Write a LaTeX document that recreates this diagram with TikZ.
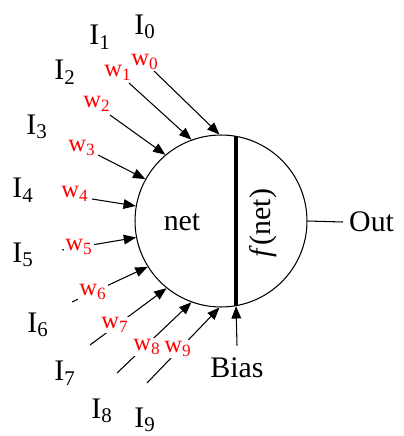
\documentclass[tikz,border=0pt]{standalone}
\usepackage{fontspec}
\setmainfont{Liberation Serif}
\usetikzlibrary{arrows.meta}

\begin{document}
\begin{tikzpicture}[x=0.02cm, y=-0.02cm,
    input/.style={font=\fontsize{17}{20}\selectfont},
    weight/.style={font=\fontsize{14}{16}\selectfont, text=red, fill=white, inner sep=0.5pt},
    link/.style={-{Triangle[length=7pt, width=5.5pt]}, line width=0.6pt}]
    \useasboundingbox (0, 0) rectangle (403, 436);

    % Neuron body
    \node[circle, draw, line width=0.6pt, minimum size=3.44cm, inner sep=0] (cell) at (221, 221) {};
    \draw[line width=1.8pt] (cell.80) -- (cell.-80);
    \node[input] (net) at (182, 222) {net};
    \node[input, rotate=90] (fnet) at (263, 223) {\textit{f}(net)};

    % Output
    \node[input, anchor=west] (out) at (343, 222) {Out};
    \draw[line width=0.6pt] (cell.east) -- (out.west);

    % Bias
    \node[input, inner sep=2pt, outer sep=5pt] (bias) at (237, 368) {Bias};
    \draw[link] (bias.north) -- (cell.-80);

    % Tails of the input lines
    \coordinate (t0) at (153, 70);
    \coordinate (t1) at (129, 83);
    \coordinate (t2) at (110, 115);
    \coordinate (t3) at (98, 155);
    \coordinate (t4) at (92, 199);
    \coordinate (t5) at (62, 250);
    \coordinate (t6) at (72, 302);
    \coordinate (t7) at (90, 345);
    \coordinate (t8) at (117, 373);
    \coordinate (t9) at (147, 383);

    % Weighted input lines
    \draw[link] (t0) -- (cell.91);
    \draw[link] (t1) -- (cell.110);
    \draw[link] (t2) -- (cell.130);
    \draw[link] (t3) -- (cell.151);
    \draw[link] (t4) -- (cell.170);
    \draw[link] (t5) -- (cell.191);
    \draw[link] (t6) -- (cell.212);
    \draw[link] (t7) -- (cell.231);
    \draw[link] (t8) -- (cell.250);
    \draw[link] (t9) -- (cell.269);

    % Weights
    \node[weight] (w0) at (145, 62) {w\textsubscript{0}};
    \node[weight] (w1) at (118, 73) {w\textsubscript{1}};
    \node[weight] (w2) at (97, 104) {w\textsubscript{2}};
    \node[weight] (w3) at (82, 148) {w\textsubscript{3}};
    \node[weight] (w4) at (75, 194) {w\textsubscript{4}};
    \node[weight] (w5) at (79, 247) {w\textsubscript{5}};
    \node[weight] (w6) at (93, 292) {w\textsubscript{6}};
    \node[weight] (w7) at (115, 325) {w\textsubscript{7}};
    \node[weight] (w8) at (147, 347) {w\textsubscript{8}};
    \node[weight] (w9) at (178, 349) {w\textsubscript{9}};

    % Inputs
    \node[input] (i0) at (145, 27) {I\textsubscript{0}};
    \node[input] (i1) at (100, 37) {I\textsubscript{1}};
    \node[input] (i2) at (65, 72) {I\textsubscript{2}};
    \node[input] (i3) at (37, 127) {I\textsubscript{3}};
    \node[input] (i4) at (23, 190) {I\textsubscript{4}};
    \node[input] (i5) at (23, 255) {I\textsubscript{5}};
    \node[input] (i6) at (38, 325) {I\textsubscript{6}};
    \node[input] (i7) at (65, 373) {I\textsubscript{7}};
    \node[input] (i8) at (102, 411) {I\textsubscript{8}};
    \node[input] (i9) at (145, 420) {I\textsubscript{9}};
\end{tikzpicture}
\end{document}
